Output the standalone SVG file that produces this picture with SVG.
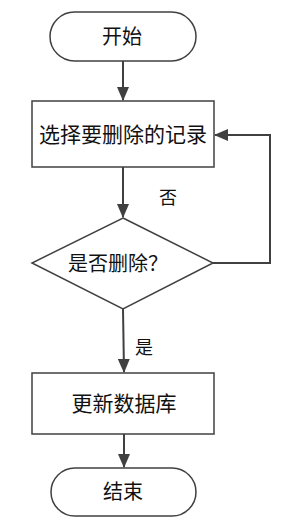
<svg xmlns="http://www.w3.org/2000/svg" width="306" height="524" viewBox="0 0 306 524">
<style>
.s{fill:#fff;stroke:#404040;stroke-width:1.5}
.c{fill:none;stroke:#404040;stroke-width:2}
.t{font-family:"Noto Sans CJK SC","Liberation Serif",serif;font-size:20px;fill:#111;text-anchor:middle}
.l{font-family:"Noto Sans CJK SC","Liberation Serif",serif;font-size:18px;fill:#111;text-anchor:middle}
</style>
<defs>
<marker id="a" viewBox="0 0 14 12" refX="13" refY="6" markerWidth="14" markerHeight="12" markerUnits="userSpaceOnUse" orient="auto">
<path d="M0,0L14,6L0,12z" fill="#404040"/>
</marker>
</defs>
<g id="connectors">
<line class="c" x1="123" y1="61" x2="123" y2="100" marker-end="url(#a)"/>
<line class="c" x1="123" y1="167" x2="123" y2="217" marker-end="url(#a)"/>
<polyline class="c" points="213,263 270,263 270,135 215,135" marker-end="url(#a)"/>
<line class="c" x1="123" y1="309" x2="124" y2="372" marker-end="url(#a)"/>
<line class="c" x1="124" y1="434" x2="124" y2="467" marker-end="url(#a)"/>
<text class="l" x="168" y="204">否</text>
<text class="l" x="144" y="354">是</text>
</g>
<g id="start">
<rect class="s" x="50" y="12" width="146" height="49" rx="24.5"/>
<text class="t" x="122" y="44">开始</text>
</g>
<g id="select">
<rect class="s" x="32" y="101" width="182" height="66"/>
<text class="t" x="123" y="142" style="font-size:21px">选择要删除的记录</text>
</g>
<g id="decision">
<polygon class="s" points="123,218 213,263 123,309 32,263"/>
<text class="t" x="118" y="271">是否删除？</text>
</g>
<g id="update">
<rect class="s" x="32" y="373" width="182" height="61"/>
<text class="t" x="124" y="411" style="font-size:21px">更新数据库</text>
</g>
<g id="end">
<rect class="s" x="51" y="468" width="145" height="48" rx="24"/>
<text class="t" x="123" y="499">结束</text>
</g>
</svg>
